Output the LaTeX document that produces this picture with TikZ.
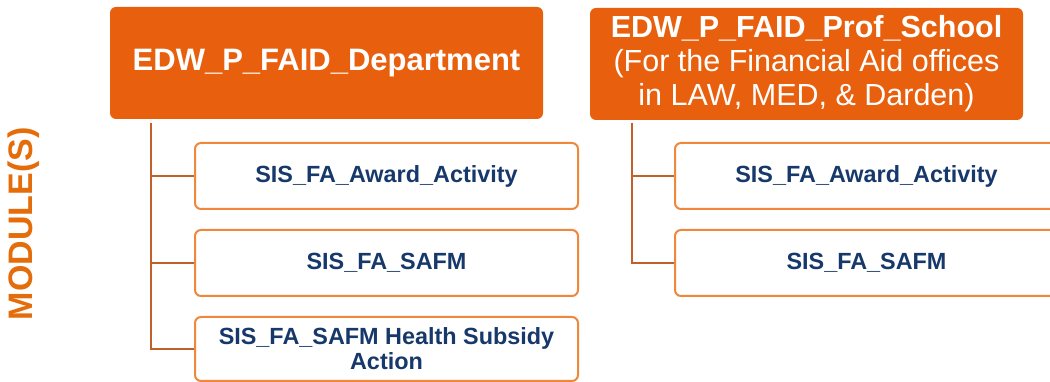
\documentclass[tikz,border=0pt]{standalone}
\usepackage{fontspec}
\setmainfont{Liberation Sans}
\usepackage{tikz}
\definecolor{faidorange}{HTML}{E8600E}
\definecolor{boxline}{HTML}{F0873A}
\definecolor{linkbrown}{HTML}{C0612B}
\definecolor{labelorange}{HTML}{E46C0A}
\definecolor{navy}{HTML}{17386A}
\tikzset{header/.style={rectangle, rounded corners=6pt, fill=faidorange, text=white, align=center, minimum width=433pt, minimum height=112pt, inner sep=0pt}}
\tikzset{module/.style={rectangle, rounded corners=6pt, draw=boxline, line width=2pt, fill=white, text=navy, align=center, minimum width=383pt, minimum height=66pt, inner sep=0pt, font=\fontsize{23.4}{25}\selectfont\bfseries}}
\tikzset{branch/.style={draw=linkbrown, line width=2pt}}

\begin{document}
\begin{tikzpicture}[x=1pt, y=1pt]
            \useasboundingbox (0, 0) rectangle (1050, 382);
            \clip (0, 0) rectangle (1050, 382);
            \node[rotate=90, text=labelorange, font=\fontsize{34}{36}\selectfont\bfseries] (modlabel) at (24, 158) {MODULE(S)};
            % department tree
            \node[header, font=\fontsize{31}{32}\selectfont\bfseries] (dept) at (326.5, 319) {EDW\_P\_FAID\_Department};
            \node[module] (deptA) at (386.5, 206) {SIS\_FA\_Award\_Activity};
            \node[module] (deptB) at (386.5, 119) {SIS\_FA\_SAFM};
            \node[module, minimum height=64pt] (deptC) at (386.5, 33) {SIS\_FA\_SAFM Health Subsidy\\Action};
            \coordinate (trunkL) at (151, 259);
            \draw[branch] (trunkL) |- (deptA.west);
            \draw[branch] (trunkL) |- (deptB.west);
            \draw[branch] (trunkL) |- (deptC.west);
            % prof school tree
            \node[header, font=\fontsize{30.5}{34}\selectfont] (prof) at (806.5, 318) {\textbf{EDW\_P\_FAID\_Prof\_School}\\(For the Financial Aid offices\\in LAW, MED, \& Darden)};
            \node[module] (profA) at (866.5, 206) {SIS\_FA\_Award\_Activity};
            \node[module] (profB) at (866.5, 119) {SIS\_FA\_SAFM};
            \coordinate (trunkR) at (632, 259);
            \draw[branch] (trunkR) |- (profA.west);
            \draw[branch] (trunkR) |- (profB.west);
        \end{tikzpicture}
\end{document}
